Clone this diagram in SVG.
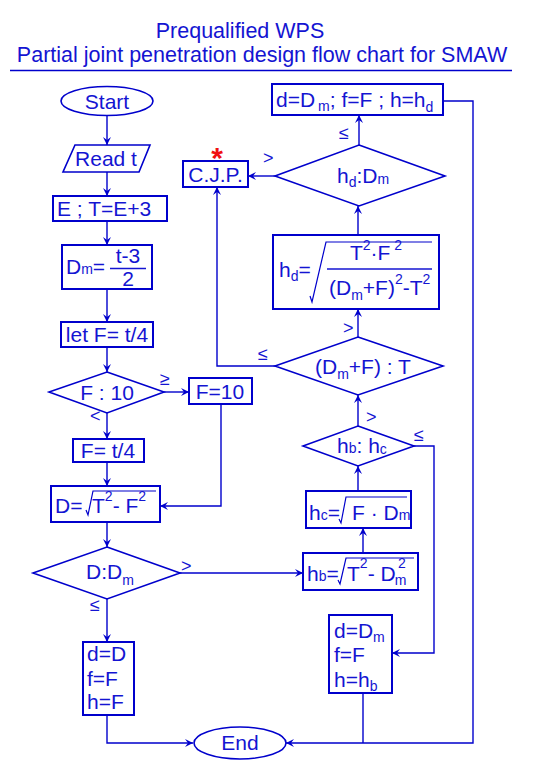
<svg xmlns="http://www.w3.org/2000/svg" width="541" height="768" viewBox="0 0 541 768">
<defs>
<marker id="ah" markerWidth="9" markerHeight="8" refX="8" refY="4" orient="auto" markerUnits="userSpaceOnUse">
<path d="M0,0 L8,4 L0,8 L3,4 Z" fill="#0000CC"/>
</marker>
</defs>
<style>
text{font-family:"Liberation Sans",Arial,sans-serif;fill:#1414D2;font-size:21px}
.c{text-anchor:middle}
.s{font-size:14px}
.l{font-size:18px}
.bx{fill:#fff;stroke:#0000CC;stroke-width:2}
.dm{fill:#fff;stroke:#0000CC;stroke-width:1.6}
.ln{fill:none;stroke:#0000CC;stroke-width:1.4}
.ar{fill:none;stroke:#0000CC;stroke-width:1.4;marker-end:url(#ah)}
.rd{fill:none;stroke:#0000CC;stroke-width:1.2}
</style>
<rect width="541" height="768" fill="#fff"/>
<g id="title">
<text class="c" x="240" y="38" style="font-size:21.5px">Prequalified WPS</text>
<text class="c" x="262" y="62" style="font-size:21.5px">Partial joint penetration design flow chart for SMAW</text>
<line x1="10" y1="70.5" x2="512" y2="70.5" stroke="#0000CC" stroke-width="1.4"/>
</g>
<g id="connectors">
<line class="ar" x1="107" y1="116" x2="107" y2="145"/>
<line class="ar" x1="107" y1="172" x2="107" y2="196"/>
<line class="ar" x1="107" y1="221" x2="107" y2="245"/>
<line class="ar" x1="107" y1="289" x2="107" y2="322"/>
<line class="ar" x1="107" y1="347" x2="107" y2="372"/>
<line class="ar" x1="164" y1="392" x2="189" y2="392"/>
<line class="ar" x1="107" y1="413" x2="107" y2="439"/>
<line class="ar" x1="107" y1="462" x2="107" y2="486"/>
<polyline class="ar" points="221,404 221,506 160,506"/>
<line class="ar" x1="107" y1="522" x2="107" y2="547"/>
<line class="ar" x1="107" y1="599" x2="107" y2="642"/>
<polyline class="ar" points="107,715 107,743 193,743"/>
<line class="ar" x1="180" y1="573" x2="303" y2="573"/>
<line class="ar" x1="363" y1="553" x2="363" y2="528"/>
<line class="ar" x1="358" y1="491" x2="358" y2="466"/>
<line class="ar" x1="358" y1="426" x2="358" y2="395"/>
<polyline class="ar" points="414,446 434,446 434,653 392,653"/>
<line class="ar" x1="358" y1="337" x2="358" y2="309"/>
<polyline class="ar" points="275,366 217,366 217,187"/>
<line class="ar" x1="358" y1="235" x2="358" y2="206"/>
<line class="ar" x1="359" y1="145" x2="359" y2="115"/>
<line class="ar" x1="275" y1="176" x2="248" y2="176"/>
<polyline class="ar" points="443,101 473,101 473,743 286,743"/>
<line class="ln" x1="363" y1="693" x2="363" y2="743"/>
<text class="l" x="160" y="385">≥</text>
<text class="l" x="90" y="422">&lt;</text>
<text class="l" x="181" y="572">&gt;</text>
<text class="l" x="90" y="611">≤</text>
<text class="l" x="339" y="139">≤</text>
<text class="l" x="263" y="164">&gt;</text>
<text class="l" x="258" y="360">≤</text>
<text class="l" x="343" y="334">&gt;</text>
<text class="l" x="366" y="423">&gt;</text>
<text class="l" x="414" y="441">≤</text>
</g>
<g id="start">
<ellipse cx="107" cy="101" rx="46" ry="14.5" fill="#fff" stroke="#0000CC" stroke-width="1.6"/>
<text class="c" x="107" y="108.5">Start</text>
</g>
<g id="read">
<polygon class="dm" points="75,145 150,145 139,172 63,172"/>
<text class="c" x="106" y="166">Read t</text>
</g>
<g id="e">
<rect class="bx" x="53" y="196" width="114" height="25"/>
<text x="57" y="216">E  ;  T=E+3</text>
</g>
<g id="dm">
<rect class="bx" x="62" y="245" width="90" height="44"/>
<text x="66" y="274">D<tspan class="s" dy="0">m</tspan>=</text>
<text class="c" x="128" y="263">t-3</text>
<line x1="110" y1="268.5" x2="146" y2="268.5" stroke="#1414D2" stroke-width="1.5"/>
<text class="c" x="128" y="286">2</text>
</g>
<g id="letf">
<rect class="bx" x="61" y="322" width="92" height="25"/>
<text class="c" x="107" y="342">let F= t/4</text>
</g>
<g id="f10d">
<polygon class="dm" points="107,372 164,392 107,413 49,392"/>
<text class="c" x="107" y="400">F : 10</text>
</g>
<g id="f10">
<rect class="bx" x="189" y="378" width="63" height="26"/>
<text class="c" x="220" y="399">F=10</text>
</g>
<g id="ft4">
<rect class="bx" x="73" y="439" width="71" height="23"/>
<text class="c" x="108" y="458">F= t/4</text>
</g>
<g id="dbox">
<rect class="bx" x="51" y="486" width="109" height="36"/>
<text x="55" y="513">D=</text>
<path class="rd" d="M86,510 L88,515 L93,491 L156,491"/>
<text x="92" y="513">T<tspan class="s" dy="-12">2</tspan><tspan dy="12">- F</tspan><tspan class="s" dy="-12">2</tspan></text>
</g>
<g id="ddm">
<polygon class="dm" points="107,547 180,573 107,599 33,573"/>
<text x="86" y="579">D:D<tspan class="s" dy="6">m</tspan></text>
</g>
<g id="ddd">
<rect class="bx" x="83" y="642" width="51" height="73"/>
<text x="87" y="661">d=D</text>
<text x="87" y="686">f=F</text>
<text x="87" y="709">h=F</text>
</g>
<g id="end">
<ellipse cx="240" cy="743" rx="46" ry="16" fill="#fff" stroke="#0000CC" stroke-width="1.6"/>
<text class="c" x="240" y="750">End</text>
</g>
<g id="top">
<rect class="bx" x="272" y="84" width="171" height="31"/>
<text x="276" y="107">d=D<tspan class="s" dx="3" dy="4">m</tspan><tspan dy="-4">; f=F ; h=h</tspan><tspan class="s" dy="5">d</tspan></text>
</g>
<g id="hddm">
<polygon class="dm" points="359,145 445,176 359,206 275,176"/>
<text x="337" y="183">h<tspan class="s" dy="4">d</tspan><tspan dy="-4">:D</tspan><tspan class="s" dy="1">m</tspan></text>
</g>
<g id="cjp">
<rect class="bx" x="183" y="161" width="65" height="26"/>
<text class="c" x="215.5" y="182">C.J.P.</text>
<text class="c" x="217" y="168" style="fill:#F01010;font-size:30px;font-weight:bold">*</text>
</g>
<g id="hd">
<rect class="bx" x="273" y="235" width="166" height="74"/>
<text x="279" y="277">h<tspan class="s" dy="4">d</tspan><tspan dy="-4">=</tspan></text>
<path class="rd" d="M310,296 L312,302 L326,242 L432,242"/>
<text class="c" x="376" y="260">T<tspan class="s" dy="-10">2</tspan><tspan dy="10">·F</tspan><tspan class="s" dy="-10"> 2</tspan></text>
<line x1="327" y1="269" x2="432" y2="269" stroke="#1414D2" stroke-width="1.4"/>
<text x="329" y="295">(D<tspan class="s" dy="5">m</tspan><tspan dy="-5">+F)</tspan><tspan class="s" dy="-11">2</tspan><tspan dy="11">-T</tspan><tspan class="s" dy="-11">2</tspan></text>
</g>
<g id="dmft">
<polygon class="dm" points="358,337 443,366 358,395 275,366"/>
<text x="315" y="374">(D<tspan class="s" dy="5">m</tspan><tspan dy="-5">+F) : T</tspan></text>
</g>
<g id="hbhc">
<polygon class="dm" points="358,426 414,446 358,466 303,446"/>
<text x="337" y="453">h<tspan class="s" dy="0">b</tspan><tspan>: h</tspan><tspan class="s" dy="1">c</tspan></text>
</g>
<g id="hc">
<rect class="bx" x="306" y="491" width="105" height="37"/>
<text x="309" y="520">h<tspan class="s">c</tspan><tspan>=</tspan></text>
<path class="rd" d="M339,519 L341,523 L346,497 L407,497"/>
<text x="352" y="520">F · D<tspan class="s">m</tspan></text>
</g>
<g id="hb">
<rect class="bx" x="303" y="553" width="115" height="37"/>
<text x="307" y="581">h<tspan class="s">b</tspan><tspan>=</tspan></text>
<path class="rd" d="M338,580 L340,584 L346,558 L414,558"/>
<text x="347" y="581">T<tspan class="s" dy="-13">2</tspan><tspan dy="13">- D</tspan><tspan class="s" dx="-1" dy="4">m</tspan></text>
<text class="s" x="398" y="568">2</text>
</g>
<g id="ddm2">
<rect class="bx" x="329" y="615" width="63" height="78"/>
<text x="334" y="638">d=D<tspan class="s" dy="4">m</tspan></text>
<text x="334" y="662">f=F</text>
<text x="334" y="687">h=h<tspan class="s" dy="4">b</tspan></text>
</g>
</svg>
